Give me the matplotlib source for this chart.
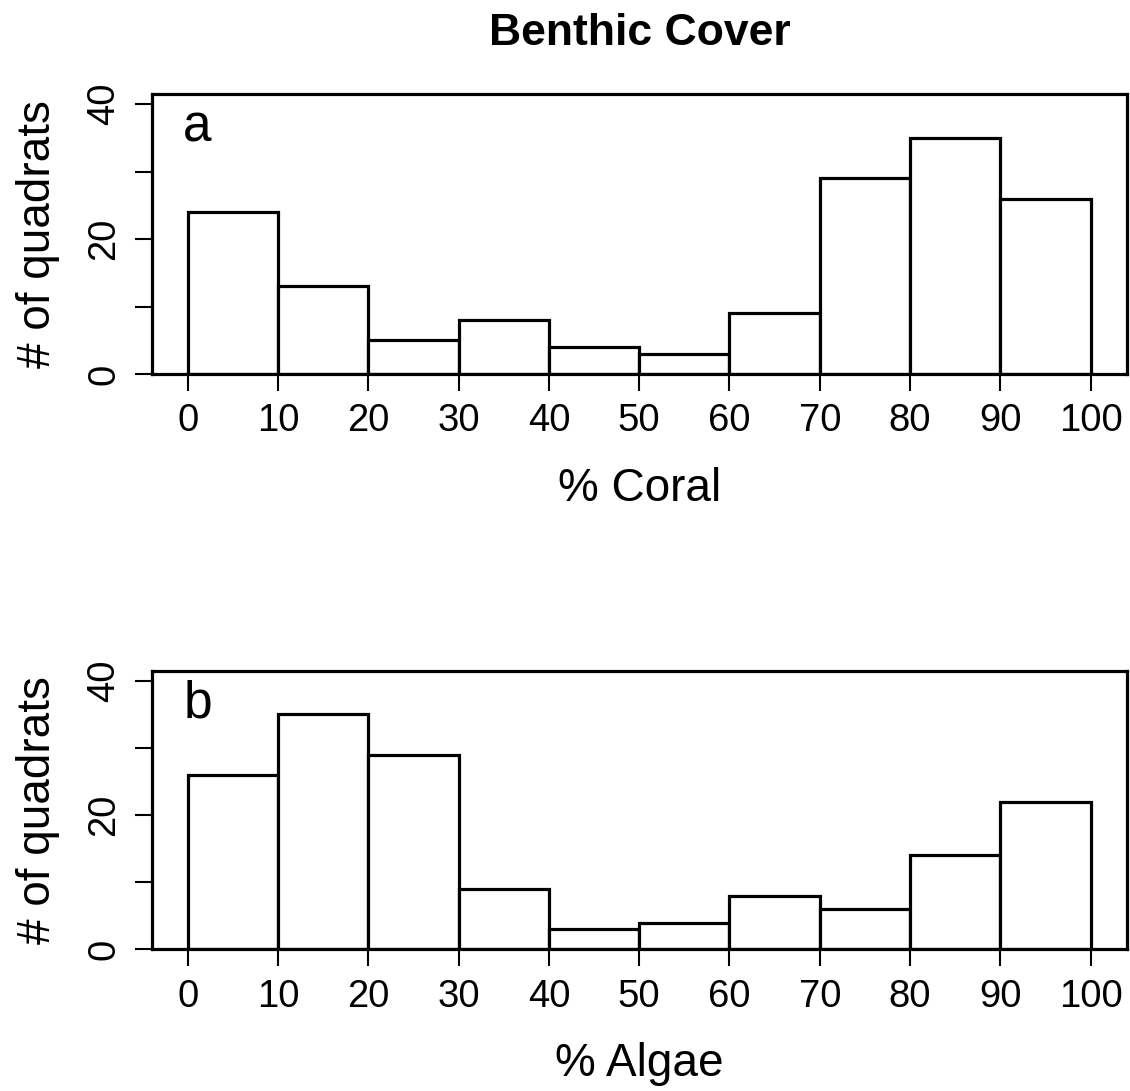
import matplotlib
matplotlib.use("Agg")
import matplotlib.pyplot as plt
import numpy as np

plt.rcParams['font.family'] = ['Liberation Sans', 'DejaVu Sans']

bin_edges = [0, 10, 20, 30, 40, 50, 60, 70, 80, 90, 100]
coral_counts = [24, 13, 5, 8, 4, 3, 9, 29, 35, 26]
algae_counts = [26, 35, 29, 9, 3, 4, 8, 6, 14, 22]
x_ticks = [0, 10, 20, 30, 40, 50, 60, 70, 80, 90, 100]
y_ticks = [0, 10, 20, 30, 40]
y_ticklabels = ['0', '', '20', '', '40']

fig = plt.figure(figsize=(11.30, 10.91), dpi=100)
ax1 = fig.add_axes([0.1342, 0.6572, 0.8629, 0.2566])
ax2 = fig.add_axes([0.1342, 0.1297, 0.8629, 0.2556])

def draw(ax, counts, xlabel, letter):
    lefts = np.array(bin_edges[:-1])
    widths = np.diff(bin_edges)
    ax.bar(lefts, counts, width=widths, align='edge', color='white',
           edgecolor='black', linewidth=2.3)
    ax.set_xlim(-4, 104)
    ax.set_ylim(0, 41.5)
    ax.set_xticks(x_ticks)
    ax.set_xticklabels([str(v) for v in x_ticks])
    ax.set_yticks(y_ticks)
    ax.set_yticklabels(y_ticklabels, rotation=90, va='center')
    ax.tick_params(axis='both', direction='out', length=12, width=1.5,
                   labelsize=27.5, pad=9, color='black')
    for s in ax.spines.values():
        s.set_linewidth(2.3)
    ax.set_xlabel(xlabel, fontsize=33, labelpad=20)
    ax.set_ylabel('# of quadrats', fontsize=33, labelpad=19)
    ax.text(-0.5, 36.5, letter, fontsize=37, ha='left', va='center')

draw(ax1, coral_counts, '% Coral', 'a')
draw(ax2, algae_counts, '% Algae', 'b')

fig.text(0.566, 0.969, 'Benthic Cover', fontsize=32, fontweight='bold',
         ha='center', va='center')

fig.savefig('out.png', dpi=100)
